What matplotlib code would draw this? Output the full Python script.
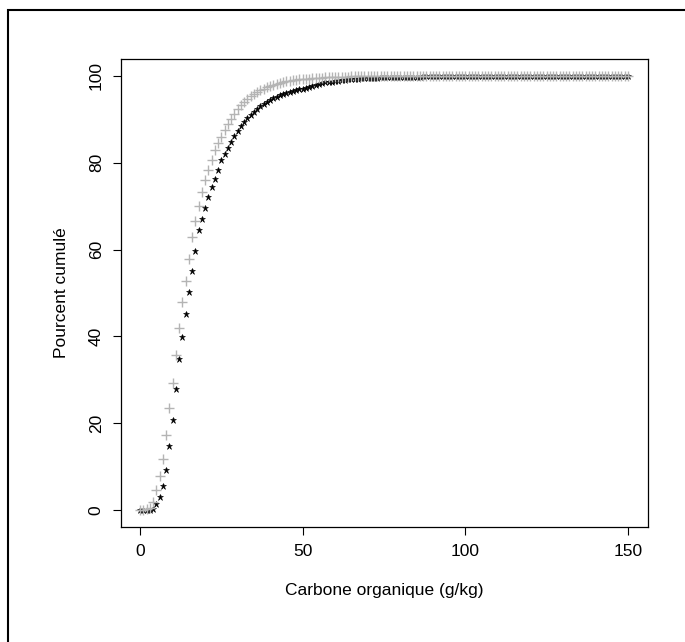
import numpy as np
from matplotlib import pyplot as plt
from matplotlib.patches import Rectangle

plt.rcParams['font.family'] = ['Liberation Sans', 'DejaVu Sans']

# carbone organique (g/kg), one value per unit
carbone = list(range(0, 151))

# cumulative percent, grey series (+)
pct_gris = [
    0.0, 0.0, 0.2, 0.5, 1.8, 4.6, 7.9, 11.7, 17.3, 23.6,
    29.3, 35.7, 42.0, 47.9, 52.8, 57.8, 62.8, 66.7, 70.1, 73.3,
    76.1, 78.4, 80.7, 82.9, 84.5, 86.0, 87.5, 88.9, 90.2, 91.3,
    92.3, 93.2, 94.0, 94.7, 95.3, 95.8, 96.3, 96.7, 97.1, 97.4,
    97.7, 98.0, 98.2, 98.4, 98.6, 98.8, 98.9, 99.0, 99.1, 99.2,
    99.3, 99.35, 99.4, 99.45, 99.5, 99.55, 99.6, 99.65, 99.7, 99.72,
    99.75, 99.78, 99.8, 99.83, 99.85, 99.88, 99.9, 99.92, 99.94, 99.96,
    99.97, 99.98, 99.99, 100.0, 100.0, 100.0, 100.0, 100.0, 100.0, 100.0,
    100.0, 100.0, 100.0, 100.0, 100.0, 100.0, 100.0, 100.0, 100.0, 100.0,
    100.0, 100.0, 100.0, 100.0, 100.0, 100.0, 100.0, 100.0, 100.0, 100.0,
    100.0, 100.0, 100.0, 100.0, 100.0, 100.0, 100.0, 100.0, 100.0, 100.0,
    100.0, 100.0, 100.0, 100.0, 100.0, 100.0, 100.0, 100.0, 100.0, 100.0,
    100.0, 100.0, 100.0, 100.0, 100.0, 100.0, 100.0, 100.0, 100.0, 100.0,
    100.0, 100.0, 100.0, 100.0, 100.0, 100.0, 100.0, 100.0, 100.0, 100.0,
    100.0, 100.0, 100.0, 100.0, 100.0, 100.0, 100.0, 100.0, 100.0, 100.0,
    100.0,
]

# cumulative percent, black series (*)
pct_noir = [
    0.0, 0.0, 0.0, 0.0, 0.2, 1.4, 3.1, 5.6, 9.2, 14.7,
    20.7, 27.9, 34.7, 39.9, 45.1, 50.2, 55.0, 59.7, 64.5, 67.0,
    69.6, 72.1, 74.4, 76.3, 78.3, 80.6, 82.1, 83.4, 84.7, 86.1,
    87.3, 88.4, 89.4, 90.3, 91.1, 91.8, 92.5, 93.1, 93.6, 94.1,
    94.5, 94.9, 95.2, 95.5, 95.8, 96.1, 96.3, 96.5, 96.7, 96.9,
    97.1, 97.3, 97.5, 97.7, 97.9, 98.1, 98.3, 98.5, 98.6, 98.7,
    98.8, 98.9, 99.0, 99.1, 99.2, 99.3, 99.35, 99.4, 99.45, 99.5,
    99.55, 99.58, 99.6, 99.62, 99.65, 99.68, 99.7, 99.72, 99.74, 99.76,
    99.78, 99.8, 99.82, 99.84, 99.85, 99.86, 99.87, 99.88, 99.89, 99.9,
    99.91, 99.92, 99.93, 99.94, 99.95, 99.96, 99.97, 99.98, 99.99, 99.99,
    100.0, 100.0, 100.0, 100.0, 100.0, 100.0, 100.0, 100.0, 100.0, 100.0,
    100.0, 100.0, 100.0, 100.0, 100.0, 100.0, 100.0, 100.0, 100.0, 100.0,
    100.0, 100.0, 100.0, 100.0, 100.0, 100.0, 100.0, 100.0, 100.0, 100.0,
    100.0, 100.0, 100.0, 100.0, 100.0, 100.0, 100.0, 100.0, 100.0, 100.0,
    100.0, 100.0, 100.0, 100.0, 100.0, 100.0, 100.0, 100.0, 100.0, 100.0,
    100.0,
]

x_ticks = [0, 50, 100, 150]
y_ticks = [0, 20, 40, 60, 80, 100]

fig = plt.figure(figsize=(6.85, 6.42), dpi=100)
ax = fig.add_axes([120.5/685, 1-527.4/642, 527/685, 468.8/642])

ax.plot(carbone, pct_noir, '*', color='black', markersize=4.5, markeredgewidth=0.4, zorder=2)
ax.plot(carbone, pct_gris, '+', color='#b4b4b4', markersize=6.5, markeredgewidth=1.0, zorder=3)

# R style limits (4% margin)
ax.set_xlim(-6, 156)
ax.set_ylim(-4, 104)
ax.set_xticks(x_ticks)
ax.set_yticks(y_ticks)
ax.set_yticklabels([str(v) for v in y_ticks], rotation=90, va='center')
ax.tick_params(axis='both', direction='out', length=6, width=0.8, labelsize=12.5, pad=6)
for sp in ax.spines.values():
    sp.set_linewidth(0.9)

ax.set_xlabel('Carbone organique (g/kg)', fontsize=12.5, labelpad=17)
ax.set_ylabel('Pourcent cumulé', fontsize=12.5, labelpad=14)

# outer frame, cut at right/bottom
fig.patches.append(Rectangle((8/685, -0.1), 1.2, 1 - 10/642 + 0.1, transform=fig.transFigure,
                             fill=False, edgecolor='black', linewidth=1.5))

plt.savefig('out.png', dpi=100)
